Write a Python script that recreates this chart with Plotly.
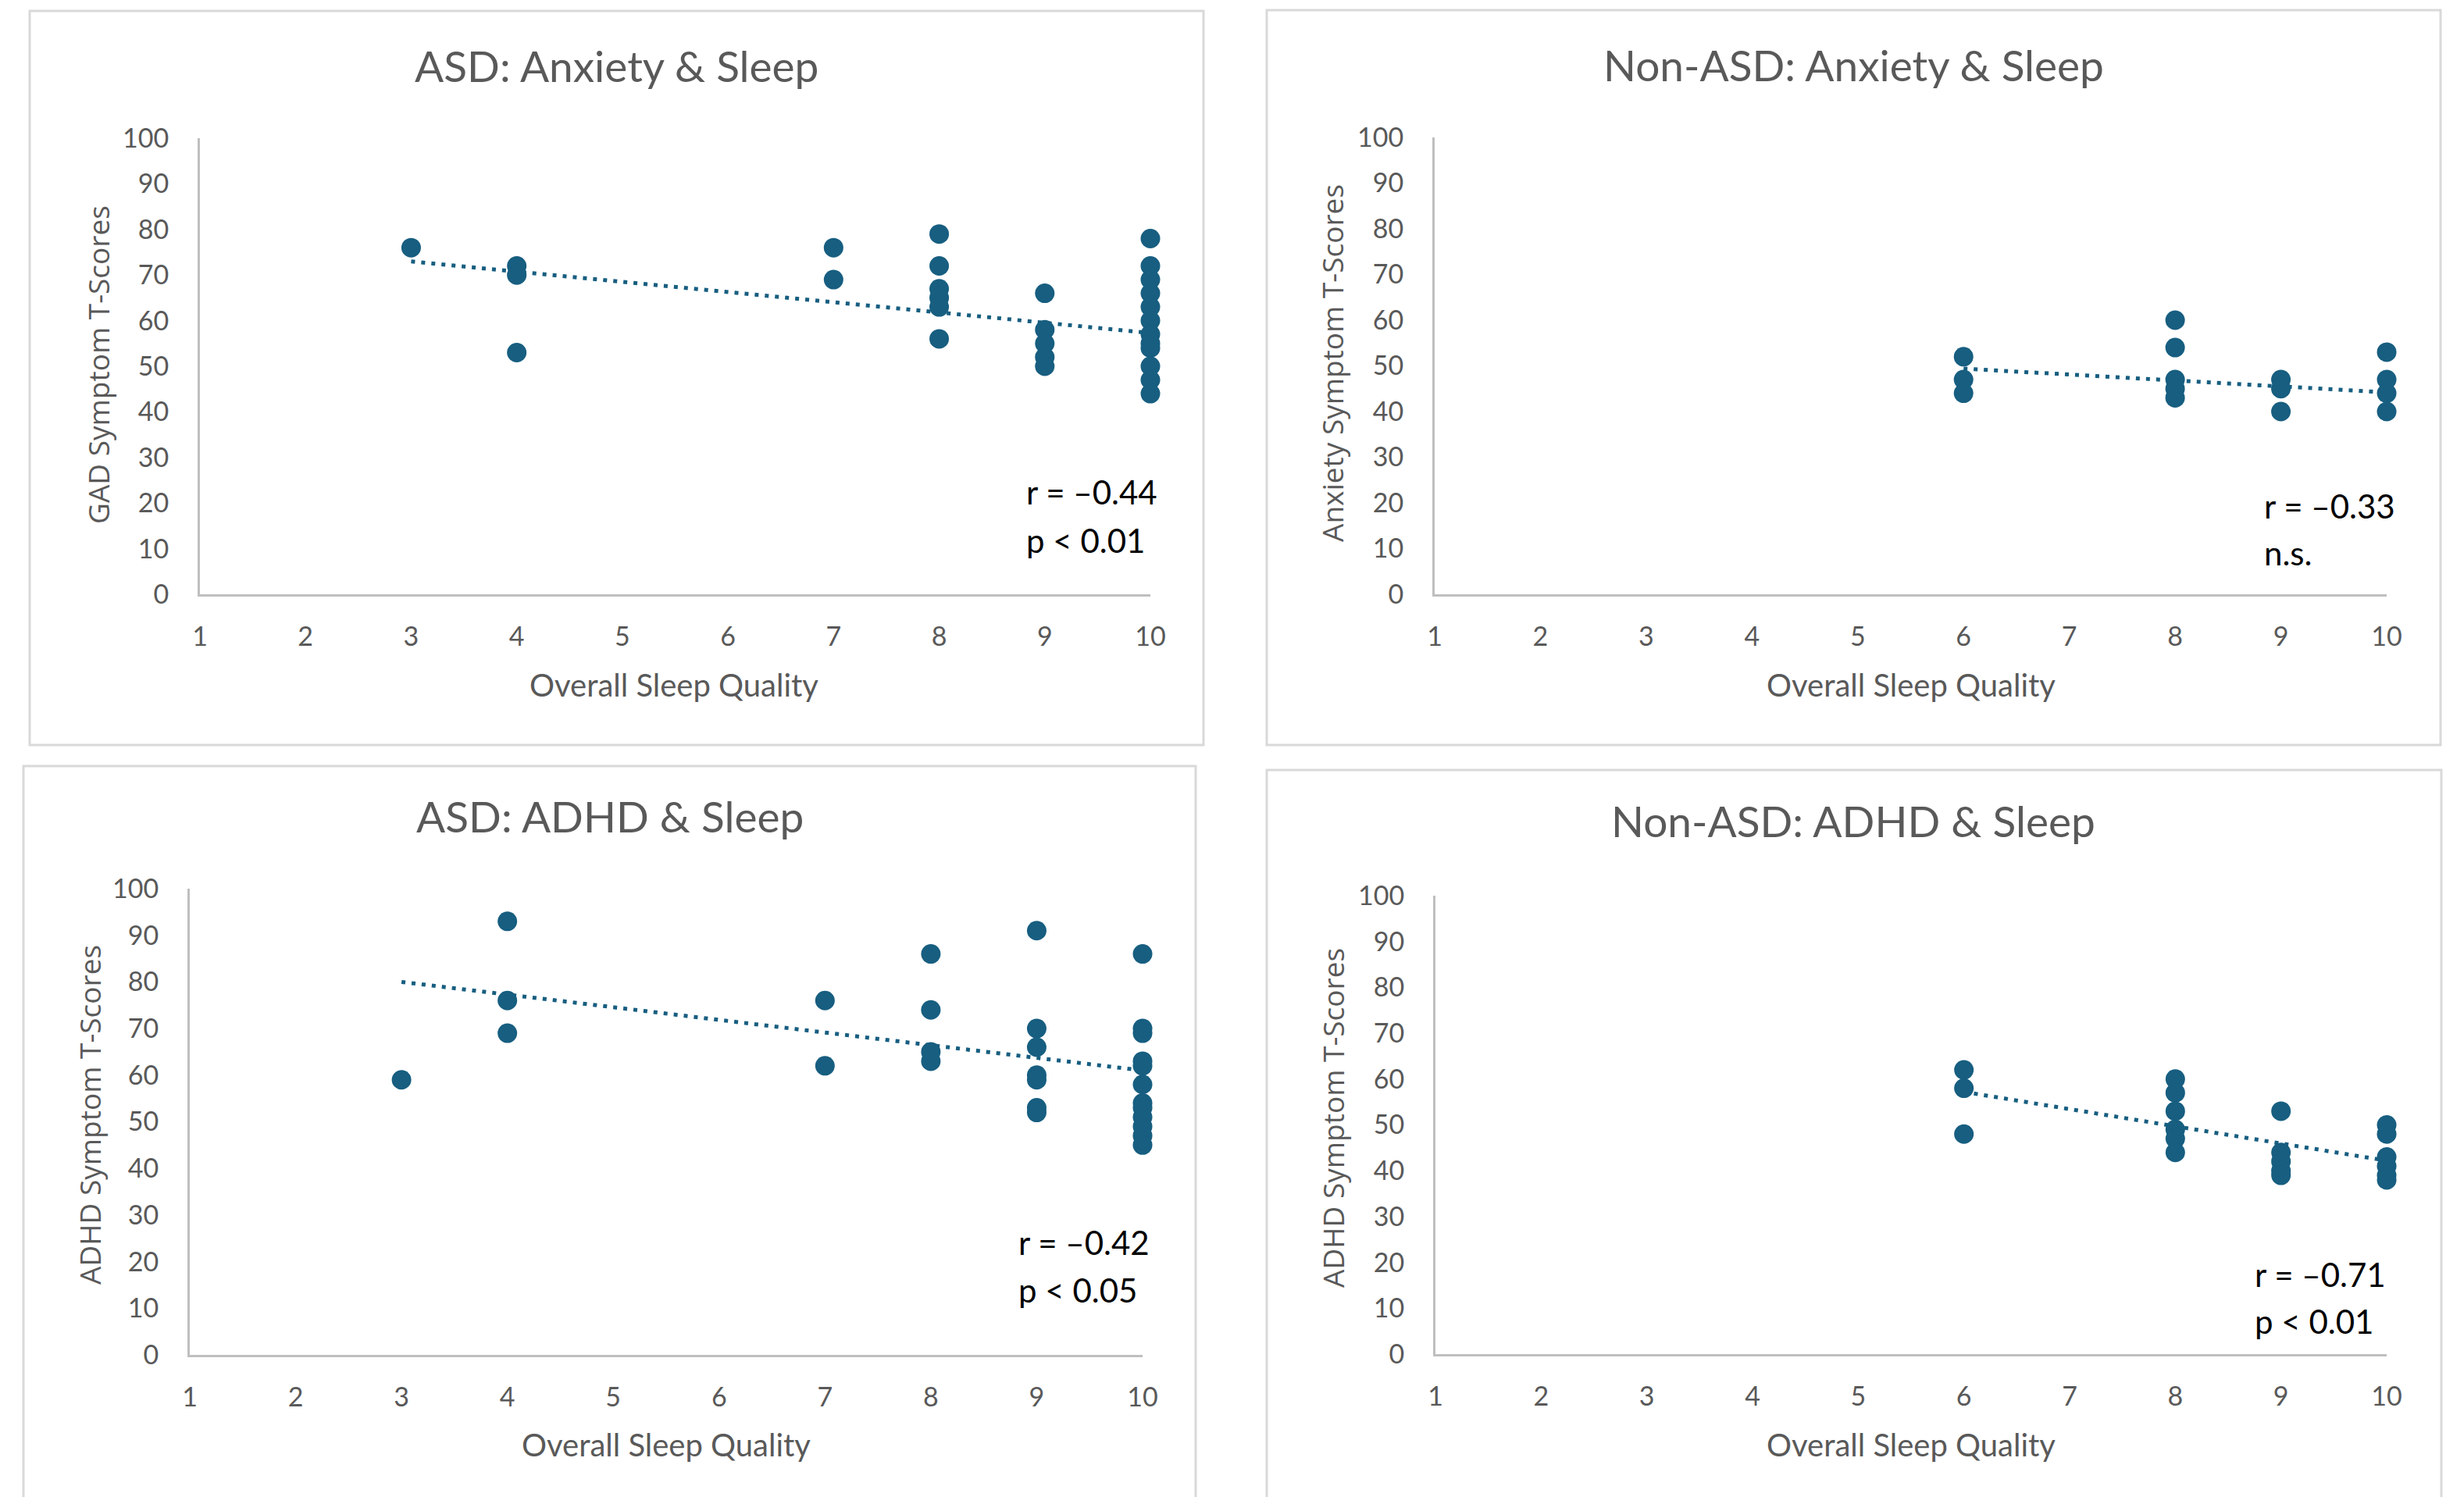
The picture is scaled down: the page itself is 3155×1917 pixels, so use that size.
import plotly.graph_objects as go

W, H = 3155, 1917

# ---------------- data ----------------
titles = ["ASD: Anxiety & Sleep", "Non-ASD: Anxiety & Sleep", "ASD: ADHD & Sleep", "Non-ASD: ADHD & Sleep"]
y_titles = ["GAD Symptom T-Scores", "Anxiety Symptom T-Scores", "ADHD Symptom T-Scores", "ADHD Symptom T-Scores"]
x_title = "Overall Sleep Quality"
stats_r = ["r = \u20130.44", "r = \u20130.33", "r = \u20130.42", "r = \u20130.71"]
stats_p = ["p < 0.01", "n.s.", "p < 0.05", "p < 0.01"]

asd_anx_x = [3, 4, 4, 4, 7, 7, 8, 8, 8, 8, 8, 8, 9, 9, 9, 9, 9,
             10, 10, 10, 10, 10, 10, 10, 10, 10, 10, 10, 10]
asd_anx_y = [76, 72, 70, 53, 76, 69, 79, 72, 67, 65, 63, 56, 66, 58, 55, 52, 50,
             78, 72, 69, 66, 63, 60, 57, 55, 54, 50, 47, 44]
asd_anx_trend_x = [3, 10]
asd_anx_trend_y = [73.0, 57.3]

non_anx_x = [6, 6, 6, 8, 8, 8, 8, 8, 9, 9, 9, 10, 10, 10, 10]
non_anx_y = [52, 47, 44, 60, 54, 47, 45, 43, 47, 45, 40, 53, 47, 44, 40]
non_anx_trend_x = [6, 10]
non_anx_trend_y = [49.4, 44.2]

asd_adhd_x = [3, 4, 4, 4, 7, 7, 8, 8, 8, 8, 9, 9, 9, 9, 9, 9, 9,
              10, 10, 10, 10, 10, 10, 10, 10, 10, 10, 10, 10]
asd_adhd_y = [59, 93, 76, 69, 76, 62, 86, 74, 65, 63, 91, 70, 66, 60, 59, 53, 52,
              86, 70, 69, 63, 62, 58, 54, 53, 51, 49, 47, 45]
asd_adhd_trend_x = [3, 10]
asd_adhd_trend_y = [80.0, 61.0]

non_adhd_x = [6, 6, 6, 8, 8, 8, 8, 8, 8, 9, 9, 9, 9, 9, 10, 10, 10, 10, 10, 10]
non_adhd_y = [62, 58, 48, 60, 57, 53, 49, 47, 44, 53, 44, 42, 40, 39, 50, 48, 43, 41, 39, 38]
non_adhd_trend_x = [6, 10]
non_adhd_trend_y = [57.2, 42.2]

x_ticks = [1, 2, 3, 4, 5, 6, 7, 8, 9, 10]
y_ticks = [0, 10, 20, 30, 40, 50, 60, 70, 80, 90, 100]

series = [
    (asd_anx_x, asd_anx_y, asd_anx_trend_x, asd_anx_trend_y),
    (non_anx_x, non_anx_y, non_anx_trend_x, non_anx_trend_y),
    (asd_adhd_x, asd_adhd_y, asd_adhd_trend_x, asd_adhd_trend_y),
    (non_adhd_x, non_adhd_y, non_adhd_trend_x, non_adhd_trend_y),
]

# ---------------- layout (pixel geometry of the reference) ----------------
plot_px = [
    (256, 1473, 177, 761),
    (1837, 3056, 176, 761),
    (243, 1463, 1138, 1735),
    (1838, 3056, 1147, 1734),
]
box_px = [
    (38, 1541, 14, 954),
    (1622, 3125, 13, 954),
    (30, 1531, 981, 1940),
    (1622, 3126, 986, 1940),
]
title_pos = [(789, 84), (2373, 83), (781, 1045), (2373, 1051)]
ytitle_pos = [(125, 467), (1706, 465), (114, 1428), (1706, 1432)]
xtitle_pos = [(863, 877), (2447, 877), (853, 1850), (2447, 1850)]
stat_pos = [(1312, 630, 692), (2897, 648, 708), (1302, 1591, 1652), (2885, 1632, 1692)]

MARK = "#175E80"
GRAY_TXT = "#595959"
AXIS_LINE = "#BFBFBF"
BOX = "#D9D9D9"


def px2x(px):
    return px / W


def px2y(py):
    return 1 - py / H


fig = go.Figure()
shapes = []
annotations = []

for i, (sx, sy, tx, ty) in enumerate(series):
    n = i + 1
    xa = "x" if n == 1 else f"x{n}"
    ya = "y" if n == 1 else f"y{n}"
    fig.add_trace(go.Scatter(x=tx, y=ty, mode="lines", xaxis=xa, yaxis=ya,
                             line=dict(color=MARK, width=5, dash="5px,8px"),
                             showlegend=False, hoverinfo="skip", cliponaxis=False))
    fig.add_trace(go.Scatter(x=sx, y=sy, mode="markers", xaxis=xa, yaxis=ya,
                             marker=dict(color=MARK, size=25, line=dict(width=0)),
                             showlegend=False, cliponaxis=False))

    l, r, t, b = plot_px[i]
    xkey = "xaxis" if n == 1 else f"xaxis{n}"
    ykey = "yaxis" if n == 1 else f"yaxis{n}"
    fig.layout[xkey] = dict(
        domain=[px2x(l), px2x(r)], range=[1, 10], anchor=ya,
        tickmode="array", tickvals=x_ticks, ticktext=[str(v) for v in x_ticks],
        showgrid=False, zeroline=False, showline=True, linecolor=AXIS_LINE, linewidth=3,
        ticks="", ticklabelstandoff=22, automargin=False,
        tickfont=dict(family="Lato", size=34, color=GRAY_TXT),
    )
    fig.layout[ykey] = dict(
        domain=[px2y(b), px2y(t)], range=[0, 100], anchor=xa,
        tickmode="array", tickvals=y_ticks, ticktext=[str(v) for v in y_ticks],
        showgrid=False, zeroline=False, showline=True, linecolor=AXIS_LINE, linewidth=3,
        ticks="", ticklabelstandoff=30, automargin=False,
        tickfont=dict(family="Lato", size=34, color=GRAY_TXT),
    )

    bx0, bx1, by0, by1 = box_px[i]
    shapes.append(dict(type="rect", xref="paper", yref="paper",
                       x0=px2x(bx0), x1=px2x(bx1), y0=px2y(by1), y1=px2y(by0),
                       line=dict(color=BOX, width=3), fillcolor="rgba(0,0,0,0)", layer="below"))

    tx0, ty0 = title_pos[i]
    annotations.append(dict(text=titles[i], xref="paper", yref="paper",
                            x=px2x(tx0), y=px2y(ty0), xanchor="center", yanchor="middle",
                            showarrow=False, font=dict(family="Lato", size=55, color=GRAY_TXT)))
    yx, yy = ytitle_pos[i]
    annotations.append(dict(text=y_titles[i], xref="paper", yref="paper",
                            x=px2x(yx), y=px2y(yy), xanchor="center", yanchor="middle",
                            textangle=-90, showarrow=False,
                            font=dict(family="Open Sans", size=37, color=GRAY_TXT)))
    xx, xy = xtitle_pos[i]
    annotations.append(dict(text=x_title, xref="paper", yref="paper",
                            x=px2x(xx), y=px2y(xy), xanchor="center", yanchor="middle",
                            showarrow=False, font=dict(family="Lato", size=40, color=GRAY_TXT)))
    sx0, sy1, sy2 = stat_pos[i]
    annotations.append(dict(text=stats_r[i], xref="paper", yref="paper",
                            x=px2x(sx0), y=px2y(sy1), xanchor="left", yanchor="middle",
                            showarrow=False, font=dict(family="Lato", size=42, color="#000000")))
    annotations.append(dict(text=stats_p[i], xref="paper", yref="paper",
                            x=px2x(sx0), y=px2y(sy2), xanchor="left", yanchor="middle",
                            showarrow=False, font=dict(family="Lato", size=42, color="#000000")))

fig.update_layout(
    autosize=True,
    margin=dict(l=0, r=0, t=0, b=0, pad=0, autoexpand=False),
    paper_bgcolor="white", plot_bgcolor="white",
    shapes=shapes, annotations=annotations, showlegend=False,
)

post = (
    "document.documentElement.style.height='100%';"
    "document.documentElement.style.margin='0';"
    "document.documentElement.style.overflow='hidden';"
    "document.body.style.height='100%';"
    "document.body.style.margin='0';"
    "document.body.style.overflow='hidden';"
    "var gd=document.getElementById('{plot_id}');"
    "gd.parentElement.style.height='100%';"
    "gd.parentElement.style.width='100%';"
    "gd.style.height='100%';gd.style.width='100%';"
    "Plotly.Plots.resize(gd);"
)

fig.write_html("out.html", default_width="100%", default_height="100%",
               config={"displayModeBar": False, "responsive": True},
               post_script=post)
